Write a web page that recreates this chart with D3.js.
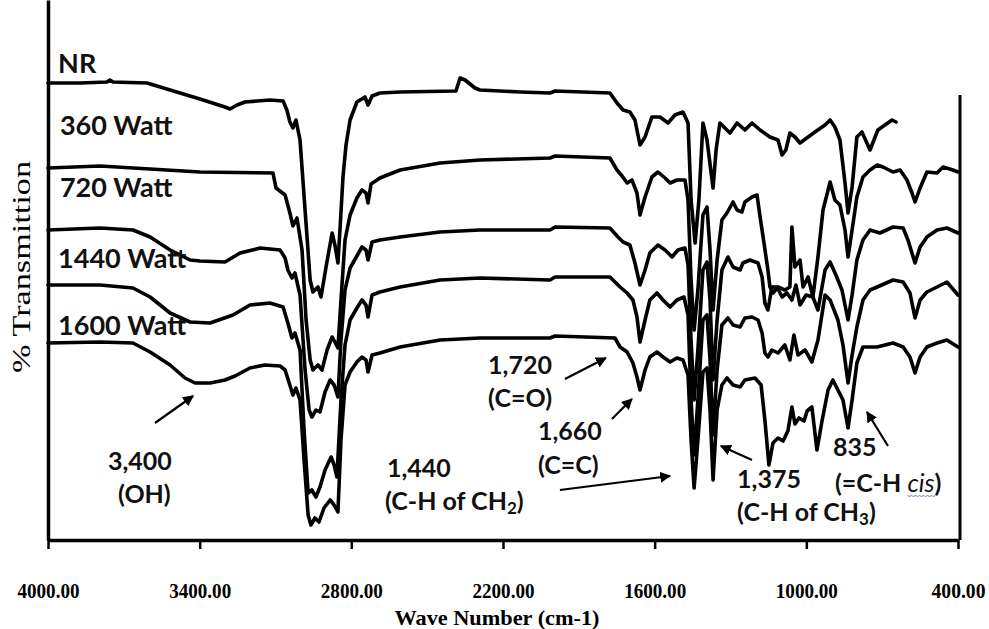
<!DOCTYPE html>
<html>
<head>
<meta charset="utf-8">
<script src="https://cdn.jsdelivr.net/npm/d3@7/dist/d3.min.js"></script>
<style>
  body { margin: 0; background: #fff; }
  svg { display: block; }
  .curve { fill: none; stroke: #000; stroke-width: 3.6; stroke-linejoin: round; stroke-linecap: round; }
  .lbl { font-family: Lato, "Open Sans", sans-serif; font-weight: bold; fill: #111; }
</style>
</head>
<body>
<script>
// wavenumber (cm-1) and transmittance (offset, arbitrary %)
const nrWave = [4000,3873,3767,3755,3743,3608,3517,3399,3300,3280,3252,3221,3122,3070,3055,3043,3031,3019,3003,2983,2963,2952,2932,2920,2900,2876,2865,2853,2845,2833,2821,2805,2778,2746,2734,2718,2687,2607,2386,2370,2350,2311,2291,2133,2014,1994,1777,1749,1725,1698,1678,1658,1638,1611,1579,1547,1520,1488,1468,1456,1440,1425,1409,1393,1369,1357,1342,1302,1274,1243,1215,1183,1144,1112,1096,1081,1065,1045,1025,966,926,906,887,867,847,835,819,800,780,748,717,689,661,645];
const nrT = [91.4,91.4,91.6,92.0,91.6,91.4,90.0,88.2,86.6,86.2,87.0,87.6,88.0,87.8,86.0,83.6,82.4,84.0,80.0,66.0,52.0,49.6,50.6,48.6,54.6,61.4,59.0,55.4,62.0,72.6,79.0,84.0,87.6,88.6,87.0,88.8,89.4,89.6,89.8,92.4,92.0,90.4,90.0,89.6,89.4,89.8,89.4,87.4,86.0,85.6,84.0,79.0,80.6,84.6,84.6,83.4,85.0,85.6,83.4,68.0,59.4,68.0,83.4,80.0,70.4,78.0,83.4,81.4,83.4,82.0,83.4,82.0,80.6,80.0,77.0,78.0,81.4,80.6,79.4,81.6,83.0,84.0,82.6,80.0,71.4,65.4,70.6,80.6,81.6,78.0,82.0,83.0,84.0,83.6];

const w360Wave = [4000,3794,3399,3110,3098,3062,3043,3031,3015,2995,2979,2963,2952,2932,2916,2896,2876,2865,2853,2841,2825,2805,2778,2758,2742,2734,2722,2687,2607,2449,2291,2014,1994,1777,1749,1729,1709,1690,1670,1658,1638,1611,1587,1559,1539,1512,1480,1468,1456,1444,1429,1409,1393,1381,1369,1353,1334,1314,1290,1274,1255,1243,1215,1195,1183,1171,1152,1144,1132,1112,1085,1065,1057,1045,1025,1013,993,974,954,934,906,887,867,847,835,819,800,776,748,720,697,657,629,602,582,570,550,523,483,459,420,400];
const w360T = [74.4,74.8,73.6,73.4,70.4,69.0,65.4,62.8,64.4,58.0,44.0,36.0,34.0,35.0,34.0,38.0,40.6,39.6,38.4,48.0,60.0,65.0,68.4,70.0,69.4,67.4,71.2,72.4,74.0,75.4,76.0,76.4,76.8,76.4,74.0,72.8,71.4,72.0,69.4,65.0,68.6,72.6,73.6,72.4,71.4,72.0,72.0,68.0,52.0,42.0,50.0,65.0,66.6,58.0,46.0,56.0,64.0,65.4,67.6,66.0,65.6,67.6,68.6,69.0,64.6,60.6,54.0,50.6,49.4,50.6,50.0,50.6,62.6,54.6,56.0,50.6,52.6,48.6,56.6,66.0,71.6,68.0,67.0,62.0,56.6,62.0,68.6,72.6,74.0,75.0,74.6,73.6,74.0,72.0,69.4,67.6,70.4,73.6,73.4,74.6,74.0,73.6];

const w720Wave = [4000,3794,3664,3596,3517,3438,3399,3300,3240,3161,3082,3062,3051,3035,3023,3003,2983,2967,2956,2940,2924,2904,2884,2868,2853,2841,2825,2805,2778,2758,2742,2734,2718,2687,2607,2449,2291,2014,1994,1777,1745,1725,1698,1678,1658,1638,1619,1587,1559,1531,1508,1480,1468,1456,1444,1429,1409,1393,1381,1369,1353,1334,1310,1290,1262,1251,1223,1191,1175,1164,1152,1136,1116,1096,1077,1057,1041,1025,1001,974,954,926,906,883,859,835,819,800,776,748,709,657,617,598,570,550,523,483,444,400];
const w720T = [62.0,62.4,62.0,60.6,58.0,56.0,55.8,55.6,57.4,58.4,58.0,56.4,54.0,52.4,53.4,49.0,34.0,26.0,24.6,26.0,25.6,29.6,32.0,31.0,28.6,40.0,50.0,54.4,56.8,58.6,58.0,56.0,59.6,60.0,60.6,61.6,62.0,62.0,62.6,62.4,60.6,59.6,59.0,55.4,51.0,54.0,57.4,59.0,58.0,56.6,58.0,58.4,55.0,40.0,28.0,38.0,54.0,55.6,48.0,32.0,44.0,54.0,56.6,54.6,54.0,55.4,56.0,55.4,52.6,47.4,46.0,50.6,50.6,48.6,49.4,48.0,51.0,47.0,49.0,48.6,46.0,54.0,55.6,53.0,50.0,44.0,49.0,56.0,60.0,62.0,61.4,62.6,62.4,60.0,55.4,58.6,60.6,62.0,62.4,61.4];

const w1440Wave = [4000,3794,3664,3596,3517,3438,3359,3268,3201,3122,3070,3051,3035,3023,3003,2987,2971,2956,2940,2924,2904,2880,2868,2857,2841,2825,2805,2778,2758,2742,2734,2718,2687,2607,2449,2291,2014,1994,1777,1737,1709,1686,1670,1658,1638,1619,1591,1567,1539,1512,1484,1468,1456,1444,1429,1409,1393,1381,1369,1353,1334,1310,1290,1262,1243,1215,1191,1175,1164,1152,1136,1112,1085,1065,1049,1033,1005,978,954,926,906,875,855,835,819,800,776,748,720,657,617,590,570,550,523,483,444,400];
const w1440T = [51.0,51.0,50.4,48.6,45.4,43.6,43.4,45.0,47.0,47.4,46.6,43.4,40.4,41.4,38.0,22.0,9.4,10.0,8.6,10.6,14.0,16.6,15.0,12.6,28.0,39.0,44.0,46.4,48.0,47.0,44.6,49.0,49.6,50.6,52.0,52.4,52.0,52.6,52.6,50.6,49.4,48.0,44.6,39.6,44.0,48.0,49.4,48.0,46.6,48.0,48.6,45.0,28.0,17.0,28.0,44.0,45.0,36.0,21.0,34.0,43.0,44.4,43.0,42.6,44.4,44.6,44.0,41.4,37.4,36.6,38.0,37.4,39.0,36.0,41.0,37.0,38.0,35.6,40.0,49.0,48.0,44.0,39.0,31.4,37.0,42.6,48.0,50.0,50.6,52.0,51.6,49.4,44.4,48.0,49.6,50.6,51.6,49.0];

const w1600Wave = [4000,3794,3664,3596,3517,3458,3418,3359,3300,3260,3201,3142,3082,3062,3047,3031,3019,3003,2987,2971,2960,2944,2928,2908,2884,2868,2853,2841,2825,2805,2778,2758,2742,2734,2718,2687,2607,2449,2291,2014,1994,1757,1737,1709,1686,1670,1658,1638,1619,1591,1567,1539,1512,1488,1468,1456,1444,1429,1409,1393,1381,1369,1353,1334,1314,1290,1262,1243,1203,1179,1164,1148,1132,1112,1092,1073,1057,1045,1029,1009,997,978,958,938,914,895,875,855,835,819,800,776,720,657,617,590,570,550,523,483,444,400];
const w1600T = [39.4,39.6,39.4,37.6,35.0,32.4,31.4,31.4,32.0,32.8,34.4,35.0,34.8,34.0,31.6,29.0,30.4,28.0,16.0,5.0,3.0,4.4,3.6,6.4,8.0,7.0,5.6,20.0,31.0,33.6,35.6,36.6,36.0,33.6,37.0,37.4,38.6,40.0,40.4,40.4,40.8,40.4,38.6,37.6,35.4,32.6,30.0,34.0,36.6,37.6,36.6,35.6,36.4,36.0,33.0,20.0,10.4,20.0,33.6,34.4,26.0,12.0,26.0,31.0,32.4,31.0,30.6,32.0,32.4,31.0,24.0,15.0,19.4,20.4,19.8,21.8,26.6,23.2,24.4,23.8,25.8,26.6,18.0,23.8,30.0,32.0,30.0,28.0,22.4,28.0,35.4,38.6,38.6,39.4,38.6,36.6,33.4,36.6,38.6,39.4,40.0,38.6];

const seriesNames = ["NR", "360 Watt", "720 Watt", "1440 Watt", "1600 Watt"];
const seriesWaves = [nrWave, w360Wave, w720Wave, w1440Wave, w1600Wave];
const seriesT = [nrT, w360T, w720T, w1440T, w1600T];
// label anchor (wavenumber, T) for each series name
const labelWave = [3960, 3953, 3953, 3960, 3960];
const labelT = [93.4, 81.0, 68.6, 54.4, 41.0];

const xTicks = [4000, 3400, 2800, 2200, 1600, 1000, 400];

// peak assignments: text lines, text anchor, arrow tail and head
const notes = [
  { lines: ["3,400", "(OH)"], w: [3763, 3723], t: [14.0, 7.4], from: [3577, 23.4], to: [3426, 28.8] },
  { lines: ["1,720", "(C=O)"], w: [2259, 2259], t: [33.2, 26.6], from: [1955, 32.2], to: [1793, 36.4] },
  { lines: ["1,660", "(C=C)"], w: [2062, 2062], t: [20.0, 13.2], from: [1769, 24.2], to: [1690, 28.2] },
  { lines: ["1,440", "(C-H of CH|2|)"], w: [2659, 2667], t: [12.6, 6.0], from: [1975, 10.0], to: [1539, 12.8] },
  { lines: ["1,375", "(C-H of CH|3|)"], w: [1274, 1274], t: [10.4, 3.8], from: [1215, 16.0], to: [1338, 18.8] },
  { lines: ["835", "(=C-H |cis|)"], w: [895, 887], t: [16.8, 9.6], from: [677, 18.8], to: [760, 25.6] }
];

const width = 989, height = 629;
const svg = d3.select("body").append("svg")
  .attr("width", width)
  .attr("height", height);

const x = d3.scaleLinear().domain([4000, 400]).range([48, 958]);
const y = d3.scaleLinear().domain([0, 108]).range([540, 0]);

// arrow head
svg.append("defs").append("marker")
  .attr("id", "head")
  .attr("viewBox", "0 0 10 10")
  .attr("refX", 9).attr("refY", 5)
  .attr("markerWidth", 5).attr("markerHeight", 5)
  .attr("markerUnits", "strokeWidth")
  .attr("orient", "auto")
  .append("path")
  .attr("d", "M0,0 L10,5 L0,10 Z")
  .attr("fill", "#000");

// spectra
const line = d3.line()
  .x(d => x(d[0]))
  .y(d => y(d[1]));

seriesWaves.forEach((wv, i) => {
  const pts = wv.map((w, j) => [w, seriesT[i][j]]);
  svg.append("path")
    .attr("class", "curve")
    .attr("d", line(pts));
});

// series labels
svg.selectAll(".series-label")
  .data(seriesNames)
  .enter()
  .append("text")
  .attr("class", "lbl series-label")
  .attr("x", (d, i) => x(labelWave[i]))
  .attr("y", (d, i) => y(labelT[i]))
  .style("font-size", "27px")
  .text(d => d);

// x axis
const xAxis = svg.append("g")
  .attr("transform", `translate(0, ${y(0)})`)
  .call(d3.axisBottom(x)
    .tickValues(xTicks)
    .tickSize(9)
    .tickSizeOuter(0)
    .tickPadding(35)
    .tickFormat(d3.format(".2f")));
xAxis.select(".domain").attr("stroke-width", 3.5).attr("stroke", "#000");
xAxis.selectAll(".tick line").attr("stroke-width", 2.5).attr("stroke", "#000");
xAxis.selectAll(".tick text")
  .attr("fill", "#000")
  .attr("textLength", 62).attr("lengthAdjust", "spacingAndGlyphs")
  .style("font-family", "'Liberation Serif', 'DejaVu Serif', serif")
  .style("font-weight", "bold")
  .style("font-size", "20px");
xAxis.selectAll(".tick text")
  .filter(d => d === 400)
  .attr("textLength", 54);

// left axis line (no ticks) and right frame line
svg.append("g")
  .attr("transform", `translate(${x(4000)}, 0)`)
  .call(d3.axisLeft(d3.scaleLinear().range([y(0), 0])).ticks(0).tickSize(0))
  .select(".domain").attr("stroke-width", 3.5).attr("stroke", "#000");
svg.append("line")
  .attr("x1", x(400) + 2).attr("x2", x(400) + 2)
  .attr("y1", y(89)).attr("y2", y(0))
  .attr("stroke", "#000").attr("stroke-width", 3);

// axis titles
svg.append("text")
  .attr("x", 497).attr("y", 625)
  .attr("text-anchor", "middle")
  .attr("textLength", 205).attr("lengthAdjust", "spacingAndGlyphs")
  .style("font-family", "'Liberation Serif', serif")
  .style("font-weight", "bold")
  .style("font-size", "21px")
  .text("Wave Number (cm-1)");

svg.append("text")
  .attr("transform", "translate(30, 267) rotate(-90)")
  .attr("text-anchor", "middle")
  .attr("textLength", 212).attr("lengthAdjust", "spacingAndGlyphs")
  .style("font-family", "'Liberation Serif', serif")
  .style("font-size", "26px")
  .text("% Transmittion");

// peak annotations
notes.forEach(n => {
  n.lines.forEach((txt, k) => {
    const t = svg.append("text")
      .attr("class", "lbl")
      .attr("x", x(n.w[k]))
      .attr("y", y(n.t[k]))
      .style("font-size", "25px");
    const parts = txt.split("|");
    parts.forEach((p, idx) => {
      if (p === "") return;
      const ts = t.append("tspan").text(p);
      if (idx === 1 && p === "cis") {
        ts.attr("class", "cis").style("font-style", "italic").style("font-weight", "normal");
      } else if (idx === 1) {
        ts.attr("dy", 4).style("font-size", "17px");
      } else if (idx === 2 && parts[1] !== "cis") {
        ts.attr("dy", -4);
      }
    });
    // spell-check squiggle under "cis"
    const c = t.select(".cis");
    if (!c.empty()) {
      const bb = c.node().getBBox();
      const yy = bb.y + bb.height - 2;
      let d = `M${bb.x},${yy}`;
      for (let sx = bb.x; sx < bb.x + bb.width; sx += 4) {
        d += ` l2,2 l2,-2`;
      }
      svg.append("path").attr("d", d)
        .attr("fill", "none").attr("stroke", "#6a7fa8").attr("stroke-width", 1);
    }
  });
  svg.append("line")
    .attr("x1", x(n.from[0])).attr("y1", y(n.from[1]))
    .attr("x2", x(n.to[0])).attr("y2", y(n.to[1]))
    .attr("stroke", "#000")
    .attr("stroke-width", 2.2)
    .attr("marker-end", "url(#head)");
});
</script>
</body>
</html>
